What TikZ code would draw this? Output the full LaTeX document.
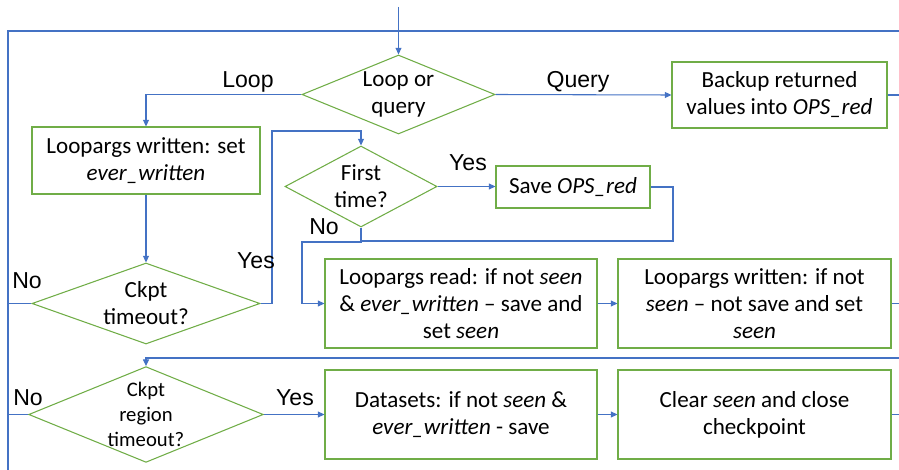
\documentclass[tikz,border=0pt]{standalone}
\usepackage{fontspec}
\setmainfont{Carlito}
\newfontfamily\labfont{Liberation Sans}
\usetikzlibrary{shapes.geometric,arrows.meta}
\definecolor{lineblue}{RGB}{68,114,196}
\definecolor{boxgreen}{RGB}{112,173,71}
\newdimen\px \px=0.75pt
\tikzset{
  conn/.style={draw=lineblue,line width=0.8pt},
  arr/.style={conn,-{Triangle[length=5pt,width=4.5pt]}},
  procbox/.style={draw=boxgreen,line width=0.8pt,rectangle,inner sep=0pt,align=center,
    font=\fontsize{17.3}{20.25}\selectfont},
  decide/.style={draw=boxgreen,line width=0.8pt,diamond,inner sep=0pt,align=center,
    font=\fontsize{17.3}{20.25}\selectfont},
  lab/.style={font=\labfont\fontsize{17.3}{20}\selectfont,inner sep=0pt,anchor=base}
}
\begin{document}
\begin{tikzpicture}[x=0.75pt,y=-0.75pt]
\useasboundingbox (0,0) rectangle (899,470);
% nodes
\node[decide,aspect=2.44,minimum width=193\px,minimum height=79\px] (q) at (398.5,94.5) {Loop or\\query};
\node[procbox,minimum width=228\px,minimum height=67\px] (lw) at (146,160.5) {Loopargs written: set\\\textit{ever\_written}};
\node[procbox,minimum width=215\px,minimum height=66\px] (br) at (779.5,95) {Backup returned\\values into \textit{OPS\_red}};
\node[decide,aspect=1.88,minimum width=152\px,minimum height=81\px] (ft) at (361,186.5) {First\\time?};
\node[procbox,minimum width=154\px,minimum height=42\px] (sv) at (573,187) {Save \textit{OPS\_red}};
\node[decide,aspect=2.8,minimum width=228\px,minimum height=81\px] (ct) at (146,303.5) {Ckpt\\timeout?};
\node[procbox,minimum width=272\px,minimum height=89\px] (lr) at (461,303.5) {Loopargs read: if not \textit{seen}\\\& \textit{ever\_written} – save and\\set \textit{seen}};
\node[procbox,minimum width=273\px,minimum height=89\px] (lw2) at (754.5,303.5) {Loopargs written: if not\\\textit{seen} – not save and set\\\textit{seen}};
\node[decide,aspect=2.45,minimum width=228\px,minimum height=93\px,font=\fontsize{15.5}{18.75}\selectfont] (cr) at (146,414.5) {Ckpt\\region\\timeout?};
\node[procbox,minimum width=272\px,minimum height=89\px] (ds) at (461,414.5) {Datasets: if not \textit{seen} \&\\\textit{ever\_written} - save};
\node[procbox,minimum width=273\px,minimum height=89\px] (cl) at (754.5,414.5) {Clear \textit{seen} and close\\checkpoint};
% frame coordinates
\coordinate (in) at (398.5,7);
\coordinate (tr) at (899,31);
\coordinate (tl) at (8,31);
\coordinate (bl) at (8,470);
\coordinate (brx) at (899,95);
\coordinate (lwx) at (899,303.5);
\coordinate (clx) at (899,414.5);
\coordinate (ret) at (899,358);
\coordinate (ya) at (272,131);
\coordinate (sva) at (673,241);
\coordinate (fta) at (302,242);
% connectors
\draw[arr] (in) -- (q.north);
\draw[conn] (tr) -- (tl) -- (bl);
\draw[arr] (q.west) -| (lw.north);
\draw[arr] (q.east) -- (br.west);
\draw[conn] (br.east) -- (brx);
\draw[arr] (lw.south) -- (ct.north);
\draw[arr] (ct.east) -| (ya) -| (ft.north);
\draw[conn] (ct.west) -- (ct.west -| tl);
\draw[arr] (ft.east) -- (ft.east -| sv.west);
\draw[conn] (sv.east) -| (sva) -- (sva -| ft.south);
\draw[arr] (ft.south) |- (fta) |- (lr.west);
\draw[arr] (lr.east) -- (lw2.west);
\draw[conn] (lw2.east) -- (lwx);
\draw[arr] (ret) -| (cr.north);
\draw[conn] (cr.west) -- (cr.west -| tl);
\draw[arr] (cr.east) -- (ds.west);
\draw[arr] (ds.east) -- (cl.west);
\draw[conn] (cl.east) -- (clx);
% labels
\node[lab] (l1) at (248,88) {Loop};
\node[lab] (l2) at (578,88) {Query};
\node[lab] (l3) at (468,171) {Yes};
\node[lab] (l4) at (324,235) {No};
\node[lab] (l5) at (256,268) {Yes};
\node[lab] (l6) at (27,288) {No};
\node[lab] (l7) at (28,405) {No};
\node[lab] (l8) at (295,405) {Yes};
\end{tikzpicture}
\end{document}
